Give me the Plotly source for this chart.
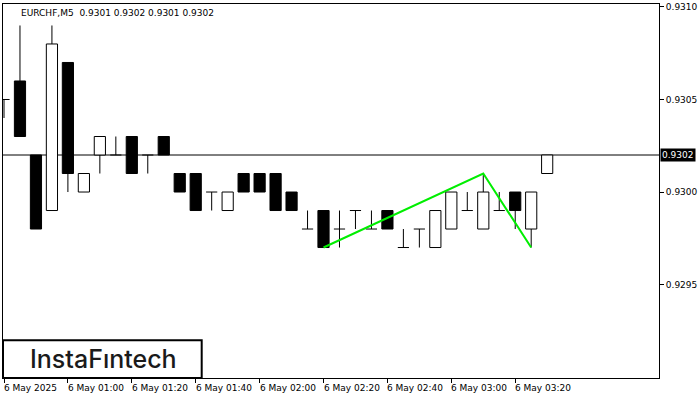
import plotly.graph_objects as go

# ---------------- data ----------------
times = ["00:40", "00:45", "00:50", "00:55", "01:00", "01:05", "01:10", "01:15",
         "01:20", "01:25", "01:30", "01:35", "01:40", "01:45", "01:50", "01:55",
         "02:00", "02:05", "02:10", "02:15", "02:20", "02:25", "02:30", "02:35",
         "02:40", "02:45", "02:50", "02:55", "03:00", "03:05", "03:10", "03:15",
         "03:20", "03:25", "03:30"]
opens = [0.9305, 0.9306, 0.9302, 0.9299, 0.9307, 0.9300, 0.9302, 0.9302,
         0.9303, 0.9302, 0.9303, 0.9301, 0.9301, 0.9300, 0.9299, 0.9301,
         0.9301, 0.9301, 0.9300, 0.9298, 0.9299, 0.9298, 0.9299, 0.9298,
         0.9299, 0.9297, 0.9298, 0.9297, 0.9298, 0.9299, 0.9298, 0.9299,
         0.9300, 0.9298, 0.9301]
highs = [0.9305, 0.9309, 0.9302, 0.9309, 0.9307, 0.9301, 0.9303, 0.9303,
         0.9303, 0.9302, 0.9303, 0.9301, 0.9301, 0.9300, 0.9300, 0.9301,
         0.9301, 0.9301, 0.9300, 0.9299, 0.9299, 0.9299, 0.9299, 0.9299,
         0.9299, 0.9298, 0.9298, 0.9299, 0.9300, 0.9300, 0.9301, 0.9300,
         0.9300, 0.9300, 0.9302]
lows = [0.9304, 0.9303, 0.9298, 0.9299, 0.9300, 0.9300, 0.9301, 0.9302,
        0.9301, 0.9301, 0.9302, 0.9300, 0.9299, 0.9299, 0.9299, 0.9300,
        0.9300, 0.9299, 0.9299, 0.9298, 0.9297, 0.9297, 0.9298, 0.9298,
        0.9298, 0.9297, 0.9297, 0.9297, 0.9298, 0.9299, 0.9298, 0.9299,
        0.9298, 0.9297, 0.9301]
closes = [0.9305, 0.9303, 0.9298, 0.9308, 0.9301, 0.9301, 0.9303, 0.9302,
          0.9301, 0.9302, 0.9302, 0.9300, 0.9299, 0.9300, 0.9300, 0.9300,
          0.9300, 0.9299, 0.9299, 0.9298, 0.9297, 0.9298, 0.9299, 0.9298,
          0.9298, 0.9297, 0.9298, 0.9299, 0.9300, 0.9299, 0.9300, 0.9299,
          0.9299, 0.9300, 0.9302]

pattern_times = ["02:20", "03:10", "03:25"]
pattern_prices = [0.9297, 0.9301, 0.9297]

x_tick_times = ["00:40", "01:00", "01:20", "01:40", "02:00", "02:20", "02:40", "03:00", "03:20"]
x_tick_labels = ["6 May 2025", "6 May 01:00", "6 May 01:20", "6 May 01:40", "6 May 02:00",
                 "6 May 02:20", "6 May 02:40", "6 May 03:00", "6 May 03:20"]
y_tick_vals = [0.9295, 0.9300, 0.9305, 0.9310]
y_tick_labels = ["0.9295", "0.9300", "0.9305", "0.9310"]

symbol = "EURCHF,M5"
last_price = 0.9302
brand = "InstaF\u0131ntech"

# ---------------- build ----------------
idx = {t: i for i, t in enumerate(times)}
half = 0.35

body_x, body_base, body_h, body_col = [], [], [], []
wx, wy = [], []
dx, dy = [], []
for i, (o, h, l, c) in enumerate(zip(opens, highs, lows, closes)):
    top, bot = max(o, c), min(o, c)
    if round(top - bot, 6) > 0:
        body_x.append(i)
        body_base.append(bot)
        body_h.append(top - bot)
        body_col.append("white" if c > o else "black")
    else:
        dx += [i - half, i + half, None]
        dy += [o, o, None]
    if round(h - top, 6) > 0:
        wx += [i, i, None]
        wy += [h, top, None]
    if round(bot - l, 6) > 0:
        wx += [i, i, None]
        wy += [bot, l, None]

fig = go.Figure()
fig.add_trace(go.Bar(x=body_x, y=body_h, base=body_base, width=2 * half,
                     marker=dict(color=body_col, line=dict(color="black", width=1)),
                     hoverinfo="skip", showlegend=False))
fig.add_trace(go.Scatter(x=wx, y=wy, mode="lines", line=dict(color="black", width=1),
                         hoverinfo="skip", showlegend=False))
fig.add_trace(go.Scatter(x=dx, y=dy, mode="lines", line=dict(color="black", width=1),
                         hoverinfo="skip", showlegend=False))
fig.add_trace(go.Scatter(x=[idx[t] for t in pattern_times], y=pattern_prices, mode="lines",
                         line=dict(color="#00ee00", width=2),
                         hoverinfo="skip", showlegend=False))

fig.add_shape(type="line", xref="paper", x0=0, x1=1, yref="y", y0=last_price, y1=last_price,
              line=dict(color="black", width=1), layer="below")

tick_font = dict(family="DejaVu Sans", size=9, color="black")

for t, lab in zip(x_tick_times, x_tick_labels):
    fig.add_annotation(x=idx[t], xref="x", y=0, yref="paper", text=lab, showarrow=False,
                       xanchor="left", yanchor="top", xshift=-2, yshift=-3, font=tick_font)

fig.add_annotation(x=1, xref="paper", y=last_price, yref="y", text=f"{last_price:.4f}",
                   showarrow=False, xanchor="left", yanchor="middle", xshift=1,
                   bgcolor="black", font=dict(family="DejaVu Sans", size=9, color="white"),
                   borderpad=1)

fig.add_annotation(x=16 / 657, xref="paper", y=1, yref="paper",
                   text=f"{symbol}  {opens[-1]:.4f} {highs[-1]:.4f} {lows[-1]:.4f} {closes[-1]:.4f}",
                   showarrow=False, xanchor="left", yanchor="top", yshift=-2, font=tick_font)

# logo box
fig.add_shape(type="rect", xref="paper", yref="paper", x0=0, x1=199 / 657, y0=0, y1=38 / 376,
              line=dict(color="black", width=2), fillcolor="white", layer="above")
fig.add_annotation(x=101 / 657, xref="paper", y=19 / 376, yref="paper", text=brand,
                   showarrow=False, xanchor="center", yanchor="middle",
                   font=dict(family="Inter", size=25, color="#1a1a1a", weight=500))

fig.update_layout(
    width=700, height=400,
    margin=dict(l=2, r=41, t=2, b=22),
    paper_bgcolor="white", plot_bgcolor="white",
    showlegend=False,
    xaxis=dict(range=[-0.0625, 41.0], showgrid=False, zeroline=False,
               showline=True, linecolor="black", linewidth=1, mirror=True,
               tickmode="array", tickvals=[idx[t] for t in x_tick_times],
               ticks="outside", ticklen=4, tickcolor="black", showticklabels=False),
    yaxis=dict(range=[0.928995, 0.931016], side="right", showgrid=False, zeroline=False,
               showline=True, linecolor="black", linewidth=1, mirror=True,
               tickmode="array", tickvals=y_tick_vals, ticktext=y_tick_labels,
               ticks="outside", ticklen=4, tickcolor="black", tickfont=tick_font),
)

fig.write_html("out.html", config={"displayModeBar": False},
               post_script="document.body.style.margin='0';document.body.style.overflow='hidden';")
